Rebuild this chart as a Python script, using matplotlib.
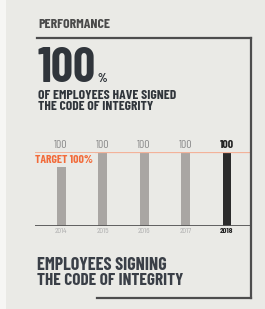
import matplotlib
matplotlib.use("Agg")
import matplotlib.pyplot as plt
from matplotlib.lines import Line2D

years = ["2014", "2015", "2016", "2017", "2018"]
values = [100, 100, 100, 100, 100]
target = 100

W, H = 265, 309
BG = "#eaeae6"
DARK = "#30353b"
FONT = ["Barlow Condensed", "DejaVu Sans"]


def fx(x):
    return x / W


def fy(y):
    return 1 - y / H


fig = plt.figure(figsize=(W / 100, H / 100), dpi=100)
fig.patch.set_facecolor(BG)
renderer = fig.canvas.get_renderer()


def fit(t, width):
    # scale font so the text spans the given pixel width
    bb = t.get_window_extent(renderer)
    t.set_fontsize(t.get_fontsize() * width / bb.width)
    return t


fig.patches.append(plt.Rectangle((0, 0), fx(6), 1, transform=fig.transFigure,
                                 facecolor="#f6f6f4", edgecolor="none"))

for xs, ys in [((37, 251), (38, 38)), ((251, 251), (38, 298)), ((97, 251), (298, 298))]:
    fig.lines.append(Line2D([fx(xs[0]), fx(xs[1])], [fy(ys[0]), fy(ys[1])],
                            transform=fig.transFigure, color="#4d4d4d", lw=1.6))

kw = dict(fontweight="bold", va="baseline", family=FONT)
fit(fig.text(fx(38), fy(28), "PERFORMANCE", fontsize=10, color="#4a4a4a", **kw), 72)
fit(fig.text(fx(37), fy(82), "100", fontsize=30, color=DARK, **kw), 58)
fig.text(fx(97), fy(82), "%", fontsize=9, color=DARK, **kw)
fit(fig.text(fx(38), fy(99), "OF EMPLOYEES HAVE SIGNED", fontsize=10, color=DARK, **kw), 138)
fit(fig.text(fx(38), fy(110), "THE CODE OF INTEGRITY", fontsize=10, color=DARK, **kw), 115)
fit(fig.text(fx(37), fy(270), "EMPLOYEES SIGNING", fontsize=12, color="#3a3f47", **kw), 131)
fit(fig.text(fx(37), fy(285), "THE CODE OF INTEGRITY", fontsize=12, color="#3a3f47", **kw), 147)

# bar chart axes: left 35, right 251, baseline y=226, value 100 at y=152
ax = fig.add_axes([fx(35), fy(226), fx(251) - fx(35), fy(152) - fy(226)])
ax.set_facecolor("none")
spacing = 41.5
x = list(range(len(years)))
colors = ["#a9a6a3"] * (len(years) - 1) + ["#2b2b2b"]
ax.bar(x, values, width=9 / spacing, color=colors, zorder=2)
ax.set_xlim(-26 / spacing, len(years) - 1 + 24 / spacing)
ax.set_ylim(0, 100)
ax.axhline(target, color="#f3b299", lw=0.9, zorder=3)
ax.axhline(0, color="#555555", lw=1.3, zorder=4)
tt = ax.text(-26 / spacing, 100 - 11, "TARGET %d%%" % target, fontsize=6,
             fontweight="bold", color="#f26b3a", ha="left", va="center",
             family=FONT, zorder=5,
             bbox=dict(facecolor=BG, edgecolor="none", pad=1.0))
fit(tt, 58)

for i, (yr, v) in enumerate(zip(years, values)):
    last = i == len(years) - 1
    ax.text(i, v + 9.5, str(v), fontsize=8.5, ha="center", va="center",
            color="#222222" if last else "#8a8a8a",
            fontweight="bold" if last else "normal", family=FONT)
    ax.text(i, -7, yr, fontsize=6, ha="center", va="center",
            color="#222222" if last else "#b0b0b0",
            fontweight="bold" if last else "normal", family=FONT)

for s in ax.spines.values():
    s.set_visible(False)
ax.set_xticks([])
ax.set_yticks([])

fig.savefig("out.png", dpi=100, facecolor=fig.get_facecolor())
